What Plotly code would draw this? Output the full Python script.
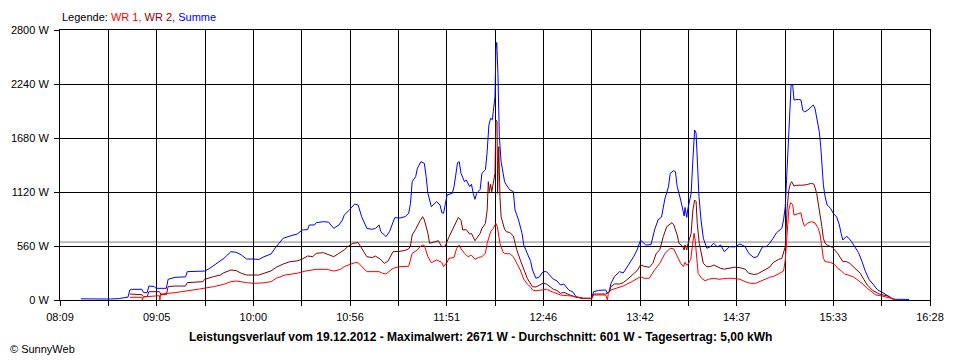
import plotly.graph_objects as go

# ---------------- data ----------------
summe_time = [
    "08:21", "08:27", "08:32", "08:38", "08:43", "08:46", "08:48", "08:49", "08:50", "08:56",
    "08:57", "08:59", "09:00", "09:03", "09:04", "09:10", "09:11", "09:15", "09:21", "09:22",
    "09:32", "09:35", "09:39", "09:43", "09:47", "09:50", "09:53", "09:56", "10:00", "10:03",
    "10:06", "10:10", "10:13", "10:17", "10:21", "10:25", "10:28", "10:31", "10:32", "10:35",
    "10:36", "10:40", "10:43", "10:46", "10:49", "10:51", "10:52", "10:55", "10:58", "11:00",
    "11:02", "11:05", "11:08", "11:10", "11:12", "11:13", "11:16", "11:18", "11:21", "11:24",
    "11:27", "11:29", "11:30", "11:31", "11:33", "11:34", "11:36", "11:38", "11:39", "11:40",
    "11:42", "11:43", "11:45", "11:47", "11:48", "11:49", "11:51", "11:54", "11:55", "11:56",
    "11:57", "11:58", "11:59", "12:01", "12:02", "12:04", "12:05", "12:06", "12:07", "12:08",
    "12:10", "12:11", "12:13", "12:14", "12:15", "12:16", "12:17", "12:17:30", "12:18:30", "12:19",
    "12:19:30", "12:20:10", "12:21", "12:22", "12:24", "12:25", "12:27", "12:29", "12:30", "12:32",
    "12:34", "12:35", "12:37", "12:39", "12:40", "12:42", "12:44", "12:46", "12:48", "12:50",
    "12:52", "12:54", "12:56", "12:58", "13:00", "13:01", "13:03", "13:05", "13:09", "13:14",
    "13:15", "13:18", "13:22", "13:23", "13:24", "13:25", "13:27", "13:30", "13:32", "13:33",
    "13:35", "13:38", "13:40", "13:42", "13:44", "13:45", "13:48", "13:50", "13:52", "13:54",
    "13:56", "13:58", "13:59", "14:01", "14:02", "14:03", "14:05", "14:06", "14:07", "14:07:30",
    "14:08:30", "14:09", "14:10", "14:11", "14:12", "14:13", "14:13:50", "14:14:30", "14:15:30", "14:16:40",
    "14:18", "14:20", "14:22", "14:24", "14:26", "14:28", "14:30", "14:33", "14:36", "14:39",
    "14:42", "14:44", "14:47", "14:49", "14:52", "14:54", "14:56", "14:58", "15:00", "15:03",
    "15:04", "15:05", "15:06", "15:07", "15:07:40", "15:08:20", "15:09:15", "15:10", "15:12:30", "15:14",
    "15:15", "15:16", "15:18", "15:19", "15:21", "15:22", "15:23", "15:24:30", "15:25:20", "15:26",
    "15:26:50", "15:27:50", "15:29", "15:31", "15:32:30", "15:34:30", "15:36", "15:37", "15:38", "15:40",
    "15:41", "15:43", "15:45", "15:47", "15:49", "15:51", "15:53", "15:55", "15:56", "15:58",
    "16:01", "16:03", "16:05", "16:07", "16:13", "16:16",
]
summe_w = [
    12, 10, 12, 10, 15, 24, 30, 104, 111, 111,
    76, 76, 145, 140, 121, 121, 215, 235, 240, 294,
    300, 330, 380, 432, 501, 495, 467, 425, 425, 420,
    449, 477, 553, 640, 664, 684, 726, 730, 778, 778,
    802, 812, 808, 743, 778, 830, 881, 933, 996, 985,
    864, 743, 733, 743, 778, 709, 657, 709, 854, 850,
    865, 899, 1000, 1227, 1279, 1366, 1434, 1417, 1279, 1106,
    968, 985, 1020, 985, 905, 900, 1089, 1106, 1175, 1296,
    1424, 1434, 1314, 1227, 1245, 1175, 1200, 1106, 1044, 1106,
    1148, 1314, 1350, 1538, 1815, 1884, 1870, 1953, 2108, 2600,
    2671, 2351, 1694, 1434, 1227, 1193, 1141, 1125, 933, 830,
    692, 570, 477, 398, 311, 225, 240, 294, 294, 259,
    215, 200, 156, 165, 121, 100, 86, 34, 17, 17,
    86, 100, 104, 70, 86, 173, 242, 294, 280, 311,
    363, 449, 519, 622, 588, 570, 575, 726, 830, 860,
    1055, 1175, 1314, 1341, 1330, 1175, 1037, 933, 871, 960,
    857, 933, 1037, 1106, 1452, 1763, 1730, 1417, 1071, 830,
    640, 536, 553, 588, 550, 570, 501, 553, 550, 581,
    553, 484, 439, 450, 553, 553, 588, 640, 698, 743,
    830, 968, 1348, 1694, 2074, 2230, 2230, 2074, 2080, 2074,
    1970, 1950, 1970, 1988, 2022, 1990, 1884, 1746, 1590, 1383,
    1193, 1071, 985, 950, 899, 860, 778, 692, 622, 660,
    650, 605, 553, 491, 398, 294, 215, 173, 140, 104,
    76, 55, 34, 7, 7, 5,
]

wr2_time = [
    "08:49", "08:56", "08:57", "08:59", "09:00", "09:06", "09:07", "09:10", "09:11", "09:15",
    "09:21", "09:22", "09:31", "09:32", "09:37", "09:41", "09:43", "09:47", "09:50", "09:53",
    "09:56", "10:00", "10:03", "10:06", "10:10", "10:13", "10:17", "10:21", "10:25", "10:28",
    "10:31", "10:34", "10:36", "10:40", "10:43", "10:46", "10:49", "10:52", "10:54", "10:57",
    "11:00", "11:02", "11:05", "11:08", "11:10", "11:13", "11:15", "11:17", "11:20", "11:24",
    "11:27", "11:29", "11:30", "11:31", "11:33", "11:35:30", "11:37", "11:38", "11:40", "11:41",
    "11:44", "11:46", "11:48", "11:50", "11:52", "11:55", "11:56:30", "11:57:30", "11:59", "12:00",
    "12:02", "12:04", "12:05", "12:07", "12:08", "12:10", "12:11", "12:13", "12:14", "12:14:40",
    "12:15:15", "12:16", "12:16:40", "12:17:30", "12:18:30", "12:19", "12:19:40", "12:20", "12:20:40", "12:21:20",
    "12:22", "12:24", "12:25", "12:27", "12:29", "12:30", "12:31", "12:33", "12:35", "12:37",
    "12:39", "12:40", "12:42", "12:44", "12:46", "12:48", "12:50", "12:52", "12:54", "12:56",
    "12:58", "13:00", "13:01", "13:05", "13:09", "13:14", "13:15", "13:22", "13:24", "13:25",
    "13:27", "13:30", "13:32", "13:34", "13:37", "13:40", "13:42", "13:44", "13:47", "13:49",
    "13:51", "13:53", "13:55", "13:57", "14:00", "14:01", "14:03", "14:04", "14:06", "14:07",
    "14:07:30", "14:08:30", "14:09", "14:10", "14:11", "14:12", "14:13", "14:13:50", "14:14:30", "14:15:40",
    "14:17", "14:18", "14:20", "14:22", "14:24", "14:26", "14:28", "14:30", "14:33", "14:36",
    "14:39", "14:42", "14:44", "14:47", "14:49", "14:52", "14:56", "14:58", "15:01", "15:03",
    "15:04", "15:05", "15:06", "15:07", "15:08", "15:08:40", "15:10", "15:11:30", "15:14:30", "15:17",
    "15:20", "15:21:30", "15:23", "15:24", "15:25", "15:26", "15:26:50", "15:27:50", "15:29", "15:32",
    "15:33:30", "15:35", "15:38", "15:40", "15:42", "15:44", "15:46", "15:48", "15:50", "15:52",
    "15:54", "15:55", "15:59", "16:04", "16:06", "16:08",
]
wr2_w = [
    62, 55, 35, 35, 86, 86, 55, 55, 138, 145,
    145, 180, 190, 215, 242, 259, 283, 311, 305, 277,
    259, 257, 259, 277, 301, 339, 373, 398, 405, 425,
    456, 450, 484, 491, 470, 449, 484, 519, 553, 588,
    595, 536, 449, 440, 455, 420, 380, 400, 501, 505,
    515, 530, 560, 674, 733, 822, 864, 830, 692, 588,
    600, 615, 550, 560, 650, 760, 830, 857, 826, 726,
    730, 684, 690, 615, 640, 692, 743, 795, 933, 1227,
    1123, 1200, 1123, 1200, 1314, 1867, 1850, 1106, 1590, 1071,
    864, 733, 708, 700, 664, 588, 519, 415, 311, 225,
    166, 138, 135, 150, 173, 166, 138, 111, 100, 69,
    80, 62, 55, 28, 17, 17, 62, 62, 86, 138,
    166, 166, 180, 207, 259, 304, 363, 350, 339, 380,
    484, 519, 657, 760, 802, 780, 674, 588, 560, 519,
    570, 519, 570, 622, 692, 933, 1037, 1020, 795, 588,
    449, 380, 346, 346, 363, 346, 328, 320, 328, 340,
    335, 320, 277, 265, 270, 300, 340, 387, 420, 432,
    484, 553, 933, 1141, 1210, 1227, 1182, 1190, 1190, 1195,
    1210, 1200, 1106, 1000, 899, 760, 640, 588, 570, 546,
    515, 484, 398, 398, 380, 346, 320, 277, 215, 156,
    121, 100, 62, 40, 17, 5,
]

wr1_time = [
    "08:49", "08:56", "08:56:20", "08:56:40", "08:59", "09:02", "09:06", "09:06:20", "09:06:40", "09:15",
    "09:24", "09:29", "09:37", "09:43", "09:47", "09:50", "09:56", "10:00", "10:06", "10:10",
    "10:13", "10:18", "10:25", "10:30", "10:36", "10:42", "10:46", "10:50", "10:52", "10:58",
    "11:00", "11:02", "11:05", "11:12", "11:14", "11:16", "11:20", "11:24", "11:28", "11:29",
    "11:31", "11:34", "11:35:30", "11:37", "11:38", "11:40", "11:42", "11:45", "11:48", "11:49",
    "11:51", "11:52", "11:55", "11:56:30", "11:58", "11:59", "12:01", "12:03", "12:05", "12:07",
    "12:09", "12:11", "12:13", "12:14", "12:16", "12:17:30", "12:19", "12:19:50", "12:21:20", "12:23",
    "12:24", "12:27", "12:29", "12:31", "12:33", "12:35", "12:37", "12:39", "12:40", "12:42",
    "12:46", "12:48", "12:52", "12:56", "13:00", "13:03", "13:09", "13:14", "13:15", "13:22",
    "13:23", "13:23:30", "13:25", "13:28", "13:32", "13:36", "13:40", "13:42", "13:44", "13:47",
    "13:50", "13:53", "13:56", "13:59", "14:01", "14:03", "14:05", "14:06:30", "14:07:30", "14:08:30",
    "14:09", "14:10:45", "14:12", "14:12:40", "14:13:20", "14:14:10", "14:15", "14:17", "14:19", "14:21",
    "14:24", "14:27", "14:29", "14:32", "14:35", "14:39", "14:42", "14:45", "14:48", "14:50:30",
    "14:53", "14:56", "14:59", "15:02", "15:04", "15:05", "15:06", "15:07", "15:08", "15:09:15",
    "15:10", "15:12:30", "15:14", "15:15", "15:16", "15:18", "15:20", "15:22", "15:24", "15:25",
    "15:26", "15:26:50", "15:27:50", "15:31", "15:33:30", "15:35", "15:37", "15:39", "15:41", "15:44",
    "15:46", "15:49", "15:52", "15:55", "15:57", "16:01", "16:05", "16:08",
]
wr1_w = [
    28, 28, 0, 30, 35, 40, 45, 0, 62, 76,
    97, 114, 138, 163, 190, 197, 180, 173, 178, 190,
    225, 259, 277, 301, 318, 318, 300, 318, 346, 387,
    387, 346, 294, 294, 277, 270, 328, 346, 346, 350,
    484, 519, 553, 570, 565, 449, 387, 415, 390, 346,
    390, 432, 440, 536, 570, 530, 484, 450, 465, 422,
    440, 450, 484, 588, 708, 743, 795, 760, 588, 501,
    480, 480, 450, 380, 311, 215, 166, 132, 104, 95,
    111, 111, 80, 52, 45, 40, 17, 17, 52, 52,
    0, 70, 104, 121, 145, 180, 225, 242, 225, 225,
    311, 380, 484, 536, 530, 449, 380, 346, 390, 360,
    365, 420, 588, 692, 620, 415, 277, 225, 200, 215,
    225, 215, 220, 225, 225, 215, 190, 173, 173, 195,
    210, 235, 250, 283, 300, 415, 726, 933, 1009, 990,
    881, 895, 905, 812, 767, 800, 812, 800, 740, 674,
    553, 432, 398, 390, 363, 330, 304, 270, 259, 240,
    215, 173, 121, 80, 52, 40, 20, 5,
]

average_w = 601
x_tick_labels = ["08:09", "09:05", "10:00", "10:56", "11:51", "12:46", "13:42", "14:37", "15:33", "16:28"]
x_start, x_end = "08:09", "16:28"
y_tick_values = [0, 560, 1120, 1680, 2240, 2800]
y_tick_labels = ["0 W", "560 W", "1120 W", "1680 W", "2240 W", "2800 W"]
series_names = ["WR 1", "WR 2", "Summe"]
title_text = ("Leistungsverlauf vom 19.12.2012 - Maximalwert: 2671 W - "
              "Durchschnitt: 601 W - Tagesertrag: 5,00 kWh")


def to_min(s):
    p = s.split(":")
    v = int(p[0]) * 60 + int(p[1])
    if len(p) > 2:
        v += int(p[2]) / 60.0
    return v


t0, t1 = to_min(x_start), to_min(x_end)
n_grid = 2 * (len(x_tick_labels) - 1)
x_tickvals = [t0 + i * (t1 - t0) / n_grid for i in range(n_grid + 1)]
x_ticktext = []
for i in range(n_grid + 1):
    x_ticktext.append(x_tick_labels[i // 2] if i % 2 == 0 else "")

FONT = "Liberation Sans, Arial, sans-serif"
C_WR1, C_WR2, C_SUM = "#ff0000", "#800000", "#0000ff"

fig = go.Figure()
fig.add_trace(go.Scatter(x=[to_min(t) for t in summe_time], y=summe_w, mode="lines",
                         name=series_names[2], line=dict(color=C_SUM, width=1)))
fig.add_trace(go.Scatter(x=[to_min(t) for t in wr2_time], y=wr2_w, mode="lines",
                         name=series_names[1], line=dict(color=C_WR2, width=1)))
fig.add_trace(go.Scatter(x=[to_min(t) for t in wr1_time], y=wr1_w, mode="lines",
                         name=series_names[0], line=dict(color=C_WR1, width=1)))

fig.add_shape(type="line", xref="paper", x0=0, x1=1, yref="y", y0=average_w, y1=average_w,
              line=dict(color="#808080", width=1), layer="below")

axis_common = dict(showgrid=True, gridcolor="#000000", gridwidth=1, showline=True,
                   linecolor="#000000", linewidth=1, mirror=True, ticks="outside",
                   ticklen=5, tickcolor="#000000", tickwidth=1, zeroline=False,
                   automargin=False,
                   tickfont=dict(family=FONT, size=11, color="#000000"))

fig.update_xaxes(range=[t0, t1], tickmode="array", tickvals=x_tickvals, ticktext=x_ticktext,
                 ticklabelstandoff=2, **axis_common)
fig.update_yaxes(range=[0, 2800], tickmode="array", tickvals=y_tick_values, ticktext=y_tick_labels,
                 ticklabelstandoff=3, **axis_common)

legend_html = ("Legende: <span style='color:%s'>%s, </span><span style='color:%s'>%s, </span>"
               "<span style='color:%s'>%s</span>" % (C_WR1, series_names[0], C_WR2, series_names[1],
                                                    C_SUM, series_names[2]))
fig.add_annotation(text=legend_html, xref="paper", yref="paper", x=0, y=1, xanchor="left",
                   yanchor="bottom", yshift=5, showarrow=False,
                   font=dict(family=FONT, size=11, color="#000000"))
fig.add_annotation(text="<b>" + title_text + "</b>", xref="paper", yref="paper",
                   x=(480 - 60) / 870, y=-37 / 270, xanchor="center", yanchor="middle",
                   showarrow=False, font=dict(family=FONT, size=12, color="#000000"))
fig.add_annotation(text="© SunnyWeb", xref="paper", yref="paper", x=-52 / 870, y=-49 / 270,
                   xanchor="left", yanchor="middle", showarrow=False,
                   font=dict(family=FONT, size=11, color="#000000"))

# the page body has an 8 px margin, so the figure is shifted by 8 px; size and margins compensate
fig.update_layout(width=952, height=352, margin=dict(l=52, r=30, t=22, b=60),
                  paper_bgcolor="#ffffff", plot_bgcolor="#ffffff", showlegend=False,
                  font=dict(family=FONT, size=11, color="#000000"))

fig.write_html("out.html")
